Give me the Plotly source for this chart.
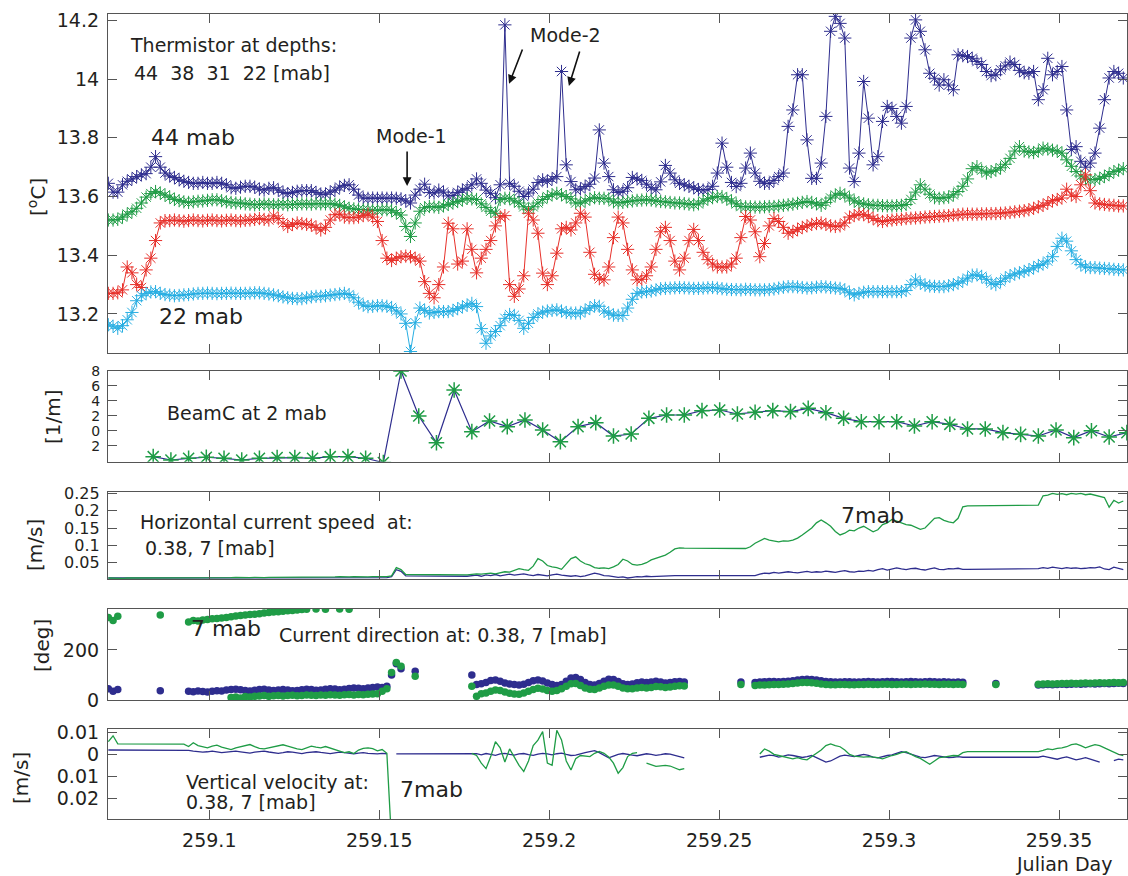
import plotly.graph_objects as go
from plotly.subplots import make_subplots

# ---------------------------------------------------------------------------
# Sampling: thermistor, current and velocity records share a 2-minute grid.
# "_" marks a missing sample (the plotted line bridges over it),
# "BR" marks a break in the record (the plotted line stops there).
# ---------------------------------------------------------------------------
T0 = 259.0703
DT = 1.0 / 720.0
_ = None
BR = float("nan")

# Thermistor temperature [degC] at 44, 38, 31 and 22 mab
temp_44 = [
    13.645, 13.615, 13.615, 13.64, 13.652, 13.66, 13.668, 13.674, 13.678, 13.70,
    13.736, 13.70, 13.68, 13.67, 13.665, 13.657, 13.652, 13.648, 13.645, 13.645,
    13.648, 13.645, 13.645, 13.648, 13.645, 13.64, 13.63, 13.628, 13.632, 13.635,
    13.635, 13.632, 13.625, 13.622, 13.628, 13.63, 13.622, 13.614, 13.61, 13.614,
    13.618, 13.62, 13.62, 13.62, 13.614, 13.608, 13.608, 13.615, 13.622, 13.632,
    13.638, 13.64, 13.625, 13.605, 13.595, 13.594, 13.595, 13.594, 13.595, 13.594,
    13.595, 13.594, 13.592, 13.585, 13.578, 13.605, 13.625, 13.642, 13.614, 13.612,
    13.622, 13.615, 13.602, 13.604, 13.614, 13.622, 13.628, 13.64, 13.66, 13.645,
    13.622, 13.611, 13.596, 13.64, 14.185, 13.645, 13.635, 13.618, 13.60, 13.612,
    13.625, 13.648, 13.657, 13.652, 13.66, 13.668, 14.026, 13.708, 13.651, 13.623,
    13.626, 13.634, 13.642, 13.663, 13.827, 13.714, 13.668, 13.623, 13.614, 13.618,
    13.63, 13.665, 13.66, 13.655, 13.642, 13.63, 13.623, 13.65, 13.706, 13.68,
    13.657, 13.645, 13.64, 13.635, 13.63, 13.624, 13.622, 13.624, 13.635, 13.68,
    13.782, 13.70, 13.648, 13.634, 13.645, 13.697, 13.748, 13.68, 13.652, 13.645,
    13.645, 13.655, 13.668, 13.68, 13.839, 13.895, 14.015, 14.015, 13.793, 13.662,
    13.662, 13.714, 13.873, 14.163, 14.214, 14.19, 14.14, 13.697, 13.651, 13.748,
    13.992, 13.867, 13.708, 13.736, 13.856, 13.907, 13.90, 13.873, 13.85, 13.907,
    14.14, 14.202, 14.163, 14.10, 14.02, 14.003, 13.98, 13.998, 13.98, 13.964,
    14.083, 14.08, 14.077, 14.071, 14.06, 14.05, 14.026, 14.012, 14.015, 14.032,
    14.045, 14.058, 14.05, 14.03, 14.022, 14.02, 14.026, 13.93, 13.964, 14.071,
    14.015, 14.026, 14.043, 13.895, 13.76, 13.77, 13.72, 13.70, 13.714, 13.748,
    13.833, 13.93, 14.004, 14.026, 14.02, 14.004,
]
temp_38 = [
    13.52, 13.52, 13.522, 13.53, 13.54, 13.548, 13.56, 13.578, 13.598, 13.61,
    13.617, 13.612, 13.605, 13.598, 13.59, 13.586, 13.582, 13.58, 13.582, 13.584,
    13.585, 13.587, 13.589, 13.589, 13.586, 13.582, 13.58, 13.578, 13.578, 13.575,
    13.574, 13.572, 13.573, 13.575, 13.573, 13.572, 13.572, 13.574, 13.572, 13.573,
    13.574, 13.575, 13.575, 13.574, 13.576, 13.575, 13.575, 13.576, 13.574, 13.57,
    13.565, 13.56, 13.558, 13.556, 13.555, 13.555, 13.553, 13.553, 13.555, 13.555,
    13.553, 13.545, 13.537, 13.498, 13.464, 13.51, 13.55, 13.562, 13.566, 13.565,
    13.563, 13.568, 13.573, 13.578, 13.583, 13.588, 13.594, 13.592, 13.59, 13.575,
    13.563, 13.55, 13.543, 13.59, 13.594, 13.594, 13.585, 13.578, 13.565, 13.555,
    13.565, 13.578, 13.59, 13.60, 13.606, 13.611, 13.606, 13.60, 13.592, 13.578,
    13.578, 13.585, 13.592, 13.596, 13.594, 13.594, 13.592, 13.582, 13.578, 13.58,
    13.583, 13.585, 13.587, 13.588, 13.589, 13.588, 13.585, 13.583, 13.582, 13.58,
    13.578, 13.578, 13.576, 13.574, 13.572, 13.575, 13.585, 13.592, 13.596, 13.60,
    13.60, 13.592, 13.585, 13.575, 13.566, 13.565, 13.565, 13.564, 13.564, 13.565,
    13.566, 13.566, 13.568, 13.57, 13.572, 13.574, 13.577, 13.58, 13.583, 13.58,
    13.575, 13.57, 13.58, 13.595, 13.605, 13.611, 13.605, 13.595, 13.585, 13.578,
    13.575, 13.572, 13.57, 13.57, 13.569, 13.568, 13.568, 13.569, 13.57, 13.573,
    13.59, 13.615, 13.64, 13.625, 13.608, 13.596, 13.594, 13.596, 13.598, 13.606,
    13.617, 13.635, 13.66, 13.695, 13.702, 13.69, 13.68, 13.685, 13.69, 13.698,
    13.71, 13.73, 13.755, 13.77, 13.755, 13.752, 13.75, 13.755, 13.765, 13.762,
    13.758, 13.755, 13.748, 13.725, 13.703, 13.685, 13.67, 13.66, 13.657, 13.658,
    13.662, 13.668, 13.676, 13.685, 13.69, 13.695,
]
temp_31 = [
    13.27, 13.27, 13.272, 13.282, 13.36, 13.34, 13.30, 13.29, 13.35, 13.39,
    13.45, 13.51, 13.518, 13.518, 13.52, 13.518, 13.516, 13.518, 13.52, 13.518,
    13.517, 13.519, 13.52, 13.518, 13.517, 13.519, 13.52, 13.518, 13.517, 13.519,
    13.52, 13.522, 13.525, 13.522, 13.52, 13.534, 13.525, 13.51, 13.498, 13.505,
    13.51, 13.508, 13.505, 13.503, 13.495, 13.486, 13.495, 13.52, 13.538, 13.54,
    13.53, 13.528, 13.528, 13.53, 13.535, 13.54, 13.53, 13.515, 13.45, 13.39,
    13.382, 13.39, 13.395, 13.397, 13.395, 13.39, 13.38, 13.31, 13.27, 13.255,
    13.30, 13.36, 13.509, 13.49, 13.37, 13.38, 13.49, 13.42, 13.34, 13.39,
    13.42, 13.45, 13.50, 13.53, 13.535, 13.30, 13.26, 13.285, 13.33, 13.543,
    13.52, 13.475, 13.339, 13.30, 13.33, 13.407, 13.49, 13.495, 13.486, 13.51,
    13.543, 13.53, 13.41, 13.335, 13.32, 13.316, 13.36, 13.46, 13.53, 13.51,
    13.42, 13.35, 13.316, 13.318, 13.33, 13.36, 13.42, 13.48, 13.495, 13.45,
    13.38, 13.35, 13.39, 13.45, 13.488, 13.45, 13.41, 13.385, 13.37, 13.36,
    13.36, 13.36, 13.37, 13.39, 13.46, 13.532, 13.52, 13.48, 13.395, 13.44,
    13.50, 13.525, 13.515, 13.495, 13.475, 13.48, 13.488, 13.495, 13.50, 13.505,
    13.508, 13.51, 13.505, 13.50, 13.498, 13.50, 13.51, 13.53, 13.535, 13.54,
    13.538, 13.533, 13.525, 13.518, 13.515, 13.518, 13.52, 13.522, 13.523, 13.525,
    13.526, 13.527, 13.528, 13.53, 13.531, 13.532, 13.533, 13.534, 13.535, 13.537,
    13.538, 13.54, 13.54, 13.54, 13.54, 13.541, 13.541, 13.542, 13.542, 13.543,
    13.544, 13.546, 13.548, 13.55, 13.552, 13.555, 13.56, 13.565, 13.57, 13.578,
    13.586, 13.59, 13.595, 13.625, 13.605, 13.60, 13.64, 13.674, 13.62, 13.578,
    13.575, 13.573, 13.571, 13.57, 13.568, 13.568,
]
temp_22 = [
    13.163, 13.158, 13.151, 13.16, 13.18, 13.205, 13.245, 13.262, 13.27, 13.275,
    13.276, 13.27, 13.266, 13.264, 13.262, 13.263, 13.265, 13.266, 13.268, 13.27,
    13.27, 13.271, 13.27, 13.269, 13.27, 13.27, 13.271, 13.27, 13.27, 13.27,
    13.271, 13.272, 13.272, 13.27, 13.268, 13.265, 13.262, 13.258, 13.255, 13.253,
    13.252, 13.252, 13.255, 13.258, 13.26, 13.26, 13.262, 13.264, 13.266, 13.268,
    13.27, 13.266, 13.255, 13.24, 13.23, 13.225, 13.226, 13.228, 13.228, 13.226,
    13.222, 13.21, 13.20, 13.168, 13.072, 13.17, 13.22, 13.212, 13.203, 13.205,
    13.208, 13.208, 13.208, 13.212, 13.218, 13.224, 13.23, 13.236, 13.225, 13.15,
    13.10, 13.125, 13.14, 13.16, 13.185, 13.198, 13.195, 13.178, 13.151, 13.168,
    13.188, 13.20, 13.206, 13.21, 13.212, 13.214, 13.21, 13.205, 13.203, 13.203,
    13.203, 13.212, 13.22, 13.228, 13.226, 13.21, 13.203, 13.196, 13.195, 13.195,
    13.22, 13.25, 13.27, 13.275, 13.276, 13.278, 13.282, 13.286, 13.287, 13.288,
    13.289, 13.29, 13.289, 13.288, 13.287, 13.287, 13.288, 13.289, 13.29, 13.288,
    13.286, 13.284, 13.283, 13.283, 13.282, 13.284, 13.283, 13.282, 13.282, 13.282,
    13.283, 13.285, 13.288, 13.291, 13.293, 13.293, 13.292, 13.29, 13.288, 13.289,
    13.291, 13.293, 13.292, 13.29, 13.288, 13.287, 13.282, 13.272, 13.265, 13.27,
    13.274, 13.276, 13.276, 13.276, 13.276, 13.276, 13.276, 13.276, 13.276, 13.28,
    13.30, 13.316, 13.305, 13.298, 13.295, 13.294, 13.293, 13.293, 13.296, 13.30,
    13.305, 13.312, 13.322, 13.332, 13.333, 13.328, 13.318, 13.305, 13.30, 13.31,
    13.322, 13.33, 13.336, 13.34, 13.345, 13.35, 13.357, 13.365, 13.37, 13.38,
    13.395, 13.43, 13.458, 13.448, 13.415, 13.385, 13.368, 13.36, 13.358, 13.358,
    13.356, 13.355, 13.354, 13.352, 13.351, 13.35,
]

# Beam attenuation at 2 mab [1/m], 7.5-minute samples
BEAM_T0 = 259.0835
BEAM_DT = 7.5 / 1440.0
beamc = [
    -3.42, -3.87, -3.64, -3.5, -3.64, -3.87, -3.64, -3.55, -3.55, -3.64,
    -3.42, -3.42, -3.64, -4.2, 8.0, 2.0, -1.56, 5.47, -0.09, 1.33,
    0.58, 1.47, 0.13, -1.42, 0.58, 1.11, -0.67, -0.4, 1.69, 2.13,
    2.13, 2.71, 2.8, 2.27, 2.49, 2.71, 2.58, 3.02, 2.44, 1.69,
    1.24, 1.24, 1.24, 0.67, 1.24, 0.89, 0.27, 0.27, -0.22, -0.45,
    -0.67, 0.13, -0.89, 0.04, -0.8, -0.22,
]

# Horizontal current speed [m/s] at 7 mab and 0.38 mab
speed_7 = [
    0.006, 0.005, 0.006, 0.005, 0.006, 0.006, 0.005, 0.006, 0.006, 0.006,
    0.006, 0.006, 0.007, 0.006, 0.006, 0.007, 0.006, 0.006, 0.007, 0.007,
    0.006, 0.007, 0.007, 0.007, 0.006, 0.007, 0.007, 0.008, 0.007, 0.007,
    0.007, 0.008, 0.007, 0.007, 0.008, 0.008, 0.007, 0.008, 0.008, 0.008,
    0.008, 0.009, 0.008, 0.009, 0.008, 0.009, 0.009, 0.008, 0.009, 0.01,
    0.009, 0.009, 0.01, 0.009, 0.01, 0.009, 0.01, 0.01, 0.009, 0.01,
    0.012, 0.036, 0.03, 0.016, _, _, _, _, _, _,
    _, _, _, _, _, _, 0.015, 0.017, 0.018, 0.017,
    0.019, 0.02, 0.018, 0.021, 0.024, 0.023, 0.028, 0.033, 0.03, 0.028,
    0.04, 0.062, 0.055, 0.042, 0.038, 0.036, 0.031, 0.045, 0.062, 0.067,
    0.055, 0.047, 0.043, 0.036, 0.034, 0.035, 0.033, 0.038, 0.045, 0.06,
    0.055, 0.045, 0.043, 0.045, 0.05, 0.058, 0.062, 0.068, 0.072, 0.08,
    0.09, 0.093, 0.092, _, _, _, _, _, _, _,
    _, _, _, _, _, 0.091, 0.096, 0.106, 0.113, 0.12,
    0.115, 0.112, 0.11, 0.113, 0.112, 0.115, 0.121, 0.13, 0.139, 0.15,
    0.165, 0.173, 0.165, 0.155, 0.14, 0.13, 0.135, 0.144, 0.142, 0.15,
    0.155, 0.148, 0.139, 0.145, 0.16, 0.165, 0.175, 0.17, 0.165, 0.16,
    0.158, 0.152, 0.146, 0.15, 0.165, 0.178, 0.18, 0.172, 0.168, 0.165,
    0.178, 0.211, 0.214, _, _, _, _, _, _, _,
    _, _, _, _, _, _, _, 0.216, 0.243, 0.245,
    0.25, 0.247, 0.249, 0.246, 0.25, 0.248, 0.25, 0.246, 0.248, 0.245,
    0.24, 0.238, 0.21, 0.23, 0.222, 0.228,
]
speed_038 = [
    0.006, 0.006, 0.005, 0.006, 0.006, 0.005, 0.006, 0.006, 0.005, 0.006,
    0.006, 0.005, 0.006, 0.006, 0.005, 0.006, 0.006, 0.006, 0.005, 0.006,
    0.006, 0.006, 0.005, 0.006, 0.006, 0.006, 0.005, 0.006, 0.006, 0.006,
    0.006, 0.005, 0.006, 0.006, 0.006, 0.006, 0.005, 0.006, 0.006, 0.006,
    0.006, 0.006, 0.005, 0.006, 0.006, 0.006, 0.006, 0.005, 0.006, 0.006,
    0.006, 0.006, 0.006, 0.005, 0.006, 0.006, 0.006, 0.006, 0.006, 0.007,
    0.01, 0.03, 0.025, 0.012, _, _, _, _, _, _,
    _, _, _, _, _, _, 0.011, 0.012, 0.014, 0.011,
    0.015, 0.013, 0.016, 0.012, 0.015, 0.017, 0.014, 0.016, 0.018, 0.015,
    0.013, 0.016, 0.014, 0.012, 0.015, 0.017, 0.014, 0.012, 0.011, 0.013,
    0.01, 0.012, 0.015, 0.02, 0.017, 0.013, 0.012, 0.01, 0.008, 0.009,
    0.006, 0.008, 0.01, 0.009, 0.011, 0.01, 0.011, 0.012, 0.012, 0.013,
    0.013, 0.013, _, _, _, _, _, _, _, _,
    _, _, _, _, _, _, _, 0.013, 0.017, 0.02,
    0.019, 0.022, 0.02, 0.021, 0.024, 0.022, 0.021, 0.023, 0.025, 0.022,
    0.024, 0.023, 0.026, 0.024, 0.022, 0.025, 0.027, 0.024, 0.023, 0.026,
    0.025, 0.028, 0.026, 0.03, 0.033, 0.029, 0.031, 0.035, 0.032, 0.03,
    0.033, 0.034, 0.031, 0.029, 0.032, 0.035, 0.031, 0.03, 0.033, 0.032,
    0.034, 0.031, 0.031, _, _, _, _, _, _, _,
    _, _, _, _, _, _, _, 0.033, 0.036, 0.034,
    0.037, 0.035, 0.033, 0.036, 0.034, 0.035, 0.033, 0.034, 0.036, 0.035,
    0.038, 0.032, 0.03, 0.037, 0.033, 0.03,
]

# Current direction [deg] at 0.38 mab and 7 mab
direction_038 = [
    45, 35, 42, _, _, _, _, _, _, _,
    _, 37, _, _, _, _, _, 35, 33, 36,
    34, 32, 35, 37, 36, 40, 42, 43, 41, 38,
    36, 39, 42, 43, 40, 38, 40, 42, 40, 37,
    38, 41, 43, 42, 39, 40, 43, 45, 44, 41,
    43, 46, 48, 47, 45, 48, 50, 52, 50, 55,
    100, 145, 125, _, _, 115, _, _, _, _,
    _, _, _, _, _, _, _, 100, 62, 65,
    70, 78, 80, 75, 68, 64, 62, 60, 63, 70,
    77, 80, 76, 68, 62, 58, 62, 75, 88, 90,
    82, 70, 62, 60, 66, 75, 83, 82, 74, 65,
    62, 64, 69, 72, 70, 72, 75, 72, 68, 70,
    73, 74, 72, _, _, _, _, _, _, _,
    _, _, _, _, 72, _, _, 70, 72, 73,
    74, 74, 73, 74, 75, 77, 80, 82, 83, 82,
    80, 77, 74, 73, 72, 72, 73, 73, 72, 72,
    73, 74, 73, 72, 73, 74, 74, 73, 72, 73,
    74, 73, 72, 73, 74, 73, 72, 73, 72, 71,
    72, 71, _, _, _, _, _, _, 66, _,
    _, _, _, _, _, _, _, 60, 61, 62,
    61, 62, 63, 62, 63, 64, 63, 64, 65, 64,
    65, 66, 65, 66, 67, 66,
]
direction_7 = [
    330, 318, 335, _, _, _, _, _, _, _,
    _, 340, _, _, _, _, _, 312, 318, 316,
    320, 322, 325, 326, 328, 330, 10, 12, 8, 14,
    12, 15, 16, 18, 15, 17, 18, 16, 18, 19,
    17, 18, 20, 19, 18, 20, 19, 21, 20, 19,
    21, 22, 20, 22, 21, 23, 24, 25, 35, 45,
    110, 150, 135, _, _, 95, _, _, _, _,
    _, _, _, _, _, _, _, 55, 15, 25,
    28, 35, 40, 38, 32, 27, 24, 23, 28, 35,
    42, 47, 44, 38, 35, 38, 45, 55, 65, 66,
    58, 48, 43, 42, 48, 55, 60, 60, 55, 48,
    45, 45, 48, 50, 48, 50, 54, 53, 50, 52,
    55, 57, 56, _, _, _, _, _, _, _,
    _, _, _, _, 62, _, _, 58, 60, 60,
    61, 62, 62, 63, 64, 66, 68, 70, 70, 69,
    67, 64, 62, 61, 61, 62, 62, 61, 61, 62,
    62, 63, 62, 62, 63, 63, 62, 62, 63, 63,
    62, 63, 63, 64, 63, 63, 62, 63, 63, 62,
    63, 62, _, _, _, _, _, _, 62, _,
    _, _, _, _, _, _, _, 63, 64, 65,
    64, 65, 66, 66, 67, 66, 67, 68, 67, 68,
    69, 68, 69, 70, 69, 70,
]
# 7 mab samples that sit just below 360 while the rest have wrapped past 0
DIR7_WRAP_START = 26
direction_7_wrap = [
    333, 336, 338, 340, 342, 343, 345, 348, 350, 352,
    353, 355, 357, 358, 360, 362, 363, _, 364, _,
    363, _, _, 364, _, 363, _,
]
DIR_REF = 180  # reference direction line [deg]

# Vertical velocity [m/s] at 7 mab and 0.38 mab
w_7 = [
    0.0058, 0.0085, 0.0048, _, _, _, _, _, _, _,
    _, _, _, _, _, _, 0.0047, 0.0036, 0.0053, 0.004,
    0.0035, 0.003, 0.0038, 0.0042, 0.0033, 0.0028, 0.0022, 0.003, 0.0036, 0.004,
    0.0045, 0.0036, 0.0028, 0.0025, 0.003, 0.0035, 0.0041, 0.0044, 0.0038, 0.003,
    0.0025, 0.0022, 0.003, 0.0038, 0.0033, 0.003, 0.0036, 0.0028, 0.002, 0.0015,
    0.0008, 0.0012, 0.0004, 0.002, 0.0028, 0.003, 0.0026, 0.0016, 0.0022, 0.0005,
    -0.04, BR, _, _, _, _, _, _, _, _,
    _, _, _, _, _, _, _, 0.0005, -0.0005, -0.004,
    -0.0065, -0.001, 0.0058, 0.003, -0.0035, 0.0025, -0.001, -0.005, -0.0078, -0.003,
    0.004, 0.0065, 0.0104, -0.004, -0.005, 0.011, 0.0066, -0.003, -0.0071, -0.002,
    -0.0005, -0.0008, -0.001, 0.0005, 0.0014, 0.0005, -0.0012, -0.004, -0.0086, -0.006,
    -0.001, 0.0005, 0.0008, BR, -0.004, -0.0048, -0.0055, -0.0052, -0.005, -0.0053,
    -0.006, -0.007, -0.0065, BR, _, _, _, _, _, _,
    _, _, _, _, _, _, _, _, 0.0002, 0.0025,
    0.0015, 0.0, -0.0005, -0.001, -0.0018, -0.002, -0.0015, -0.0022, -0.0025, -0.001,
    0.0005, 0.002, 0.004, 0.0048, 0.004, 0.0035, 0.002, 0.0, -0.0008, -0.001,
    -0.0012, -0.001, -0.0012, -0.0015, -0.002, -0.0012, -0.0005, 0.0, 0.0008, 0.0012,
    0.0, -0.001, -0.0018, -0.003, -0.0045, -0.003, -0.0015, -0.0012, -0.0008, -0.0005,
    -0.0006, 0.0008, 0.0013, _, _, _, _, _, _, _,
    _, _, _, _, _, _, 0.0013, 0.0013, 0.0018, 0.0025,
    0.0022, 0.0028, 0.003, 0.0035, 0.0045, 0.0048, 0.004, 0.003, 0.0038, 0.0045,
    0.004, 0.003, 0.002, 0.001, 0.0, -0.0005,
]
w_038 = [
    0.002, _, _, _, _, _, _, _, _, _,
    _, _, _, _, _, _, 0.002, 0.0018, 0.0015, 0.0012,
    0.001, 0.0012, 0.0015, 0.0012, 0.0008, 0.001, 0.0013, 0.0015, 0.0012, 0.0008,
    0.0006, 0.001, 0.0012, 0.0015, 0.0011, 0.0008, 0.0005, 0.0008, 0.0012, 0.001,
    0.0006, 0.0004, 0.0008, 0.001, 0.0012, 0.0009, 0.0006, 0.0004, 0.0007, 0.001,
    0.0008, 0.0005, 0.0003, 0.0006, 0.0008, 0.0005, 0.0003, 0.0002, 0.0005, 0.0003,
    BR, 0.0002, 0.0002, _, _, _, _, _, _, _,
    _, _, _, _, _, _, _, 0.0002, 0.0003, -0.0002,
    0.0004, 0.0, -0.0004, 0.0002, 0.0005, 0.0, -0.0003, 0.0002, 0.0004, -0.0001,
    -0.0004, 0.0001, 0.0005, 0.0002, -0.0002, 0.0003, 0.0006, 0.0, -0.0005, -0.0003,
    0.0004, 0.0008, 0.0013, 0.0017, 0.0008, -0.0005, -0.0016, -0.0008, 0.0, 0.0004,
    0.0002, -0.0003, -0.0006, -0.0002, 0.0003, 0.0, -0.0004, -0.0001, 0.0003, 0.0001,
    -0.0004, -0.001, -0.0016, BR, _, _, _, _, _, _,
    _, _, _, _, _, _, _, _, -0.0013, -0.0008,
    -0.0003, -0.0006, -0.0012, -0.0008, -0.0002, -0.0005, -0.001, -0.0014, -0.001, -0.0005,
    -0.0015, -0.0025, -0.0035, -0.003, -0.0018, -0.0008, -0.0003, -0.0006, -0.001, -0.0005,
    0.0, -0.0004, -0.0012, -0.0016, -0.001, -0.0005, -0.0002, 0.0005, 0.0012, 0.0008,
    0.0, -0.0006, -0.0012, -0.0015, -0.001, -0.0005, -0.0008, -0.0012, -0.0015, -0.0013,
    -0.001, -0.0013, -0.0013, _, _, _, _, _, _, _,
    _, _, _, _, _, _, -0.0013, -0.0013, -0.0008, -0.0012,
    -0.0018, -0.0022, -0.0016, -0.0011, -0.0018, -0.0025, -0.002, -0.0015, -0.0022, -0.003,
    -0.0035, BR, _, -0.0028, -0.0022, -0.0025,
]

# Axis ticks
X_TICKS = [259.1, 259.15, 259.2, 259.25, 259.3, 259.35]
X_TICK_TEXT = ["259.1", "259.15", "259.2", "259.25", "259.3", "259.35"]
X_RANGE = [259.0702, 259.3700]

BLUE = "#2e2d8e"
GREEN = "#1f9c46"
RED = "#e7302a"
CYAN = "#27aee2"
INK = "#231f20"
FRAME = "#555555"
FONT = "DejaVu Sans"


def on_grid(values, start=0, t0=T0, dt=DT):
    """Times/values for a sampled record, skipping missing samples."""
    xs, ys = [], []
    for k, v in enumerate(values):
        if v is None:
            continue
        xs.append(t0 + (start + k) * dt)
        ys.append(v)
    return xs, ys


fig = make_subplots(rows=5, cols=1, shared_xaxes=True)

# Panel 1: thermistor string
for series, colour in ((temp_44, BLUE), (temp_38, GREEN), (temp_31, RED), (temp_22, CYAN)):
    xs, ys = on_grid(series)
    fig.add_trace(go.Scatter(
        x=xs, y=ys, mode="lines+markers",
        line=dict(color=colour, width=1),
        marker=dict(symbol="asterisk-open", size=11, color=colour,
                    line=dict(width=1, color=colour)),
    ), row=1, col=1)

# Panel 2: beam attenuation
xs, ys = on_grid(beamc, t0=BEAM_T0, dt=BEAM_DT)
fig.add_trace(go.Scatter(
    x=xs, y=ys, mode="lines+markers",
    line=dict(color=BLUE, width=1.2),
    marker=dict(symbol="asterisk-open", size=13, color=GREEN,
                line=dict(width=1.5, color=GREEN)),
), row=2, col=1)

# Panel 3: horizontal speed
for series, colour in ((speed_038, BLUE), (speed_7, GREEN)):
    xs, ys = on_grid(series)
    fig.add_trace(go.Scatter(x=xs, y=ys, mode="lines",
                             line=dict(color=colour, width=1.3),
                             connectgaps=True), row=3, col=1)

# Panel 4: current direction
fig.add_hline(y=DIR_REF, line=dict(color="#e8262a", width=5), row=4, col=1)
for series, colour, start in ((direction_038, BLUE, 0), (direction_7, GREEN, 0),
                              (direction_7_wrap, GREEN, DIR7_WRAP_START)):
    xs, ys = on_grid(series, start=start)
    fig.add_trace(go.Scatter(x=xs, y=ys, mode="markers",
                             marker=dict(size=7.5, color=colour)), row=4, col=1)

# Panel 5: vertical velocity
for series, colour in ((w_038, BLUE), (w_7, GREEN)):
    xs, ys = on_grid(series)
    fig.add_trace(go.Scatter(x=xs, y=ys, mode="lines",
                             line=dict(color=colour, width=1.3)), row=5, col=1)

frame = dict(showline=True, linecolor=FRAME, linewidth=1.2, mirror="ticks",
             ticks="inside", ticklen=9, tickcolor=FRAME, tickwidth=1.2,
             showgrid=False, zeroline=False,
             tickfont=dict(family=FONT, size=19, color=INK))

fig.update_xaxes(range=X_RANGE, tickvals=X_TICKS, ticktext=X_TICK_TEXT,
                 showticklabels=False, **frame)
fig.update_xaxes(showticklabels=True, ticklabelstandoff=4, row=5, col=1)

y_specs = [
    dict(domain=[0.5793, 1.0], range=[13.068, 14.222],
         tickvals=[13.2, 13.4, 13.6, 13.8, 14.0, 14.2],
         ticktext=["13.2", "13.4", "13.6", "13.8", "14", "14.2"]),
    dict(domain=[0.4439, 0.5569], range=[-4.09, 8.04],
         tickvals=[8, 6, 4, 2, 0, -2], ticktext=["8", "6", "4", "2", "0", "2"]),
    dict(domain=[0.2981, 0.4058], range=[0.003, 0.2529],
         tickvals=[0.05, 0.1, 0.15, 0.2, 0.25],
         ticktext=["0.05", "0.1", "0.15", "0.2", "0.25"]),
    dict(domain=[0.1478, 0.2609], range=[0, 364],
         tickvals=[0, 200], ticktext=["0", "200"]),
    dict(domain=[0.0, 0.1118], range=[-0.0295, 0.0116],
         tickvals=[0.01, 0, -0.01, -0.02], ticktext=["0.01", "0", "0.01", "0.02"]),
]
for r, spec in enumerate(y_specs, start=1):
    fig.update_yaxes(ticklabelstandoff=4, **spec, **frame, row=r, col=1)
# the crowded beam-attenuation and speed scales use slightly smaller labels
fig.update_yaxes(tickfont=dict(family=FONT, size=14, color=INK), row=2, col=1)
fig.update_yaxes(tickfont=dict(family=FONT, size=16, color=INK), row=3, col=1)


def note(text, x, y, panel, size=19, anchor="left"):
    ref = "" if panel == 1 else str(panel)
    return dict(text=text, x=x, y=y, xref="x" + ref, yref="y" + ref,
                xanchor=anchor, yanchor="middle", showarrow=False,
                font=dict(family=FONT, size=size, color=INK))


def arrow(x0, y0, x1, y1):
    return dict(text="", x=x1, y=y1, ax=x0, ay=y0, xref="x", yref="y",
                axref="x", ayref="y", showarrow=True, arrowhead=2,
                arrowsize=1.1, arrowwidth=1.6, arrowcolor="#111111")


def axis_title(text, x, y):
    return dict(text=text, x=x, y=y, xref="paper", yref="paper",
                xanchor="center", yanchor="middle", textangle=-90,
                showarrow=False, font=dict(family=FONT, size=20, color=INK))


nbsp2 = "\u00a0\u00a0"
annotations = [
    note("Thermistor at depths:", 259.0761, 14.1165, 1),
    note("44" + nbsp2 + "38" + nbsp2 + "31" + nbsp2 + "22 [mab]", 259.0773, 14.021, 1),
    note("44 mab", 259.0823, 13.80, 1, size=22),
    note("22 mab", 259.0847, 13.19, 1, size=22),
    note("Mode-1", 259.1594, 13.8065, 1, size=19, anchor="center"),
    note("Mode-2", 259.2047, 14.151, 1, size=19, anchor="center"),
    arrow(259.1582, 13.759, 259.1582, 13.636),
    arrow(259.1923, 14.106, 259.1882, 13.984),
    arrow(259.2091, 14.0995, 259.2058, 13.977),
    note("BeamC at 2 mab", 259.0870, 2.36, 2),
    note("Horizontal current speed" + nbsp2 + "at:", 259.0789, 0.168, 3),
    note("0.38, 7 [mab]", 259.0805, 0.0915, 3),
    note("7mab", 259.2853, 0.1875, 3, size=22),
    note("7 mab", 259.0941, 287, 4, size=22),
    note("Current direction at: 0.38, 7 [mab]", 259.1199, 260, 4),
    note("Vertical velocity at:", 259.0926, -0.0124, 5),
    note("0.38, 7 [mab]", 259.0926, -0.0216, 5),
    note("7mab", 259.1555, -0.0162, 5, size=22),
    axis_title("[<sup>o</sup>C]", -0.0697, 0.7727),
    axis_title("[1/m]", -0.054, 0.5006),
    axis_title("[m/s]", -0.0716, 0.3404),
    axis_title("[deg]", -0.0648, 0.2161),
    axis_title("[m/s]", -0.0854, 0.0509),
    dict(text="Julian Day", x=0.9382, y=-0.0706, xref="paper", yref="paper",
         xanchor="center", yanchor="bottom", showarrow=False, borderpad=0,
         font=dict(family=FONT, size=19, color=INK)),
]

fig.update_layout(
    width=1128, height=876,
    margin=dict(l=108, r=1, t=14, b=57),
    paper_bgcolor="white", plot_bgcolor="white",
    showlegend=False,
    font=dict(family=FONT, size=19, color=INK),
    annotations=annotations,
)

fig.write_html("out.html")
